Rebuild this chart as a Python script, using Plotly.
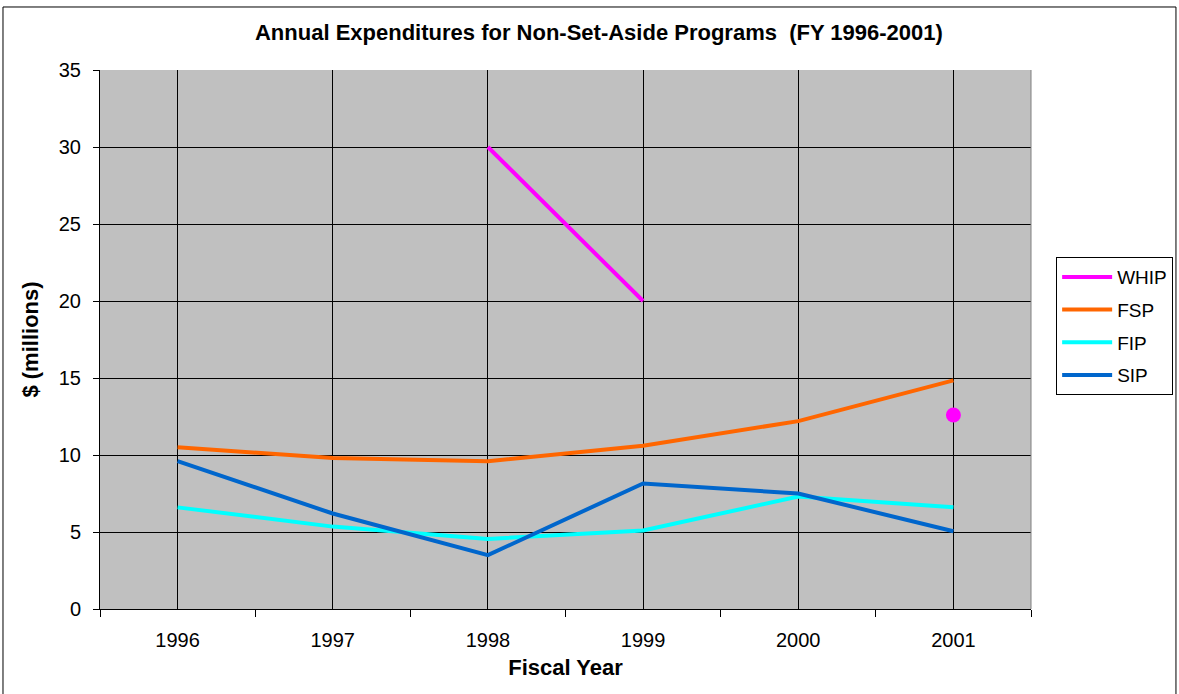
import plotly.graph_objects as go

years = ["1996", "1997", "1998", "1999", "2000", "2001"]
whip = [None, None, 30.0, 20.0, None, 12.6]
fsp = [10.5, 9.8, 9.6, 10.6, 12.2, 14.85]
fip = [6.6, 5.35, 4.55, 5.1, 7.3, 6.6]
sip = [9.6, 6.2, 3.5, 8.15, 7.5, 5.05]

series = [("WHIP", whip, "#FF00FF"), ("FSP", fsp, "#FF6600"),
          ("FIP", fip, "#00FFFF"), ("SIP", sip, "#0066CC")]

font = "Liberation Sans, Arial, sans-serif"
xpos = list(range(len(years)))

fig = go.Figure()
for name, vals, color in series:
    fig.add_trace(go.Scatter(x=xpos, y=vals, mode="lines", name=name, legendgroup=name,
                             line=dict(color=color, width=4), connectgaps=False))
    # isolated points (no neighbours) are drawn as a dot, like Excel does
    lone_x, lone_y = [], []
    for i, v in enumerate(vals):
        prev_v = vals[i - 1] if i > 0 else None
        next_v = vals[i + 1] if i < len(vals) - 1 else None
        if v is not None and prev_v is None and next_v is None:
            lone_x.append(xpos[i])
            lone_y.append(v)
    if lone_x:
        fig.add_trace(go.Scatter(x=lone_x, y=lone_y, mode="markers", showlegend=False,
                                 legendgroup=name, marker=dict(color=color, size=15)))

fig.update_layout(
    width=1179, height=694,
    margin=dict(l=100, r=148, t=70, b=85, autoexpand=False),
    paper_bgcolor="white", plot_bgcolor="#C0C0C0",
    font=dict(family=font, size=20, color="black"),
    title=dict(text="<b>Annual Expenditures for Non-Set-Aside Programs  (FY 1996-2001)</b>",
               x=0.508, xanchor="center", y=0.954, yanchor="middle",
               font=dict(size=22, family=font)),
    legend=dict(x=1.027, xanchor="left", y=0.653, yanchor="top",
                bordercolor="black", borderwidth=1, bgcolor="white", itemwidth=50,
                font=dict(size=19, family=font), tracegroupgap=5),
    showlegend=True,
)

fig.update_xaxes(
    range=[-0.5, len(years) - 0.5], tickmode="array", tickvals=xpos, ticktext=years,
    showgrid=True, gridcolor="black", gridwidth=1, zeroline=False,
    ticks="outside", ticklen=13, tickcolor="rgba(0,0,0,0)",
    showline=True, linecolor="black", linewidth=1, mirror=False,
    minor=dict(tickmode="array", tickvals=[p - 0.5 for p in xpos] + [len(years) - 0.5],
               ticks="outside", ticklen=7, tickcolor="black", showgrid=False),
    title=dict(text="<b>Fiscal Year</b>", font=dict(size=22), standoff=9),
)

fig.update_yaxes(
    range=[0, 35], dtick=5, showgrid=True, gridcolor="black", gridwidth=1,
    zeroline=False, ticks="outside", ticklen=6, tickcolor="black", ticklabelstandoff=8,
    showline=True, linecolor="black", linewidth=1,
    title=dict(text="<b>$ (millions)</b>", font=dict(size=22), standoff=14),
)

# right edge of the plot area and the outer chart border
fig.add_shape(type="line", xref="paper", yref="paper", x0=1, x1=1, y0=0, y1=1,
              line=dict(color="#808080", width=1))
fig.add_shape(type="rect", xref="paper", yref="paper",
              x0=-0.1042, x1=1.1557, y0=-0.17, y1=1.1169,
              line=dict(color="black", width=1), layer="below")

fig.write_html("out.html", config={"displayModeBar": False},
               post_script="document.body.style.margin='0';")
